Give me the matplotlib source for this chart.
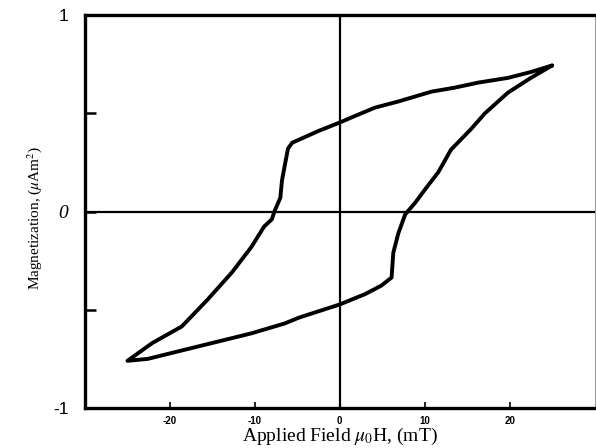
import matplotlib.pyplot as plt
import numpy as np

plt.rcParams['mathtext.fontset'] = 'stix'

# descending branch: from +25 mT tip to -25 mT tip
upper_h = [25.0, 22.5, 19.8, 16.3, 13.5, 10.8, 6.9, 4.1, 2.0, 0.0, -2.5, -5.6, -6.1,
           -6.8, -7.0, -7.7, -8.0, -8.9, -10.4, -12.7, -15.6, -18.6, -22.1, -25.0]
upper_m = [0.743, 0.71, 0.68, 0.656, 0.63, 0.61, 0.56, 0.528, 0.49, 0.453, 0.41, 0.35, 0.32,
           0.16, 0.07, 0.0, -0.04, -0.076, -0.18, -0.31, -0.45, -0.585, -0.67, -0.76]

# ascending branch: from -25 mT tip back to +25 mT tip
lower_h = [-25.0, -22.6, -19.8, -15.1, -10.4, -6.5, -4.8, 0.0, 3.0, 4.9, 6.1,
           6.3, 6.9, 7.7, 8.9, 10.0, 11.6, 13.1, 15.4, 17.1, 19.8, 22.5, 25.0]
lower_m = [-0.76, -0.75, -0.72, -0.67, -0.62, -0.57, -0.54, -0.473, -0.42, -0.377, -0.336,
           -0.21, -0.11, -0.015, 0.046, 0.11, 0.20, 0.315, 0.417, 0.50, 0.605, 0.68, 0.743]

xticks = [-20, -10, 0, 10, 20]
yticks = [-1, -0.5, 0, 0.5, 1]
ylabels = ['-1', '', '0', '', '1']

fig = plt.figure(figsize=(5.96, 4.48), dpi=100)
ax = fig.add_axes([0.1426, 0.0893, 0.855, 0.8772])

ax.plot(upper_h + lower_h, upper_m + lower_m, color='black', lw=2.8,
        solid_joinstyle='round', solid_capstyle='round')

ax.axhline(0, color='black', lw=1.6)
ax.axvline(0, color='black', lw=1.6)

ax.set_xlim(-30, 30)
ax.set_ylim(-1, 1)

for side in ['left', 'bottom', 'top']:
    ax.spines[side].set_linewidth(2.4)
ax.spines['right'].set_linewidth(0.8)
ax.spines['right'].set_color('#999999')

ax.set_xticks(xticks)
ax.set_xticklabels([str(t) for t in xticks], fontsize=7, fontweight='bold',
                   family='Liberation Sans')
ax.set_yticks(yticks)
ax.set_yticklabels(ylabels, fontsize=12.5, family='Liberation Sans')
zero_lbl = ax.yaxis.get_ticklabels()[2]
zero_lbl.set_style('italic')
zero_lbl.set_family('Liberation Serif')
zero_lbl.set_fontsize(14)

ax.tick_params(axis='x', direction='in', length=4, width=1.2, pad=6)
ax.tick_params(axis='y', direction='in', length=8, width=1.8, pad=12)

ax.set_xlabel(r'Applied Field $\mu_0$H, (mT)', family='Liberation Serif',
              fontsize=14, labelpad=0)
ax.set_ylabel(r'Magnetization, ($\mu$Am$^{2}$)', family='Liberation Serif',
              fontsize=11)
ax.yaxis.set_label_coords(-0.08, 0.485)

fig.savefig('out.png', dpi=100)
